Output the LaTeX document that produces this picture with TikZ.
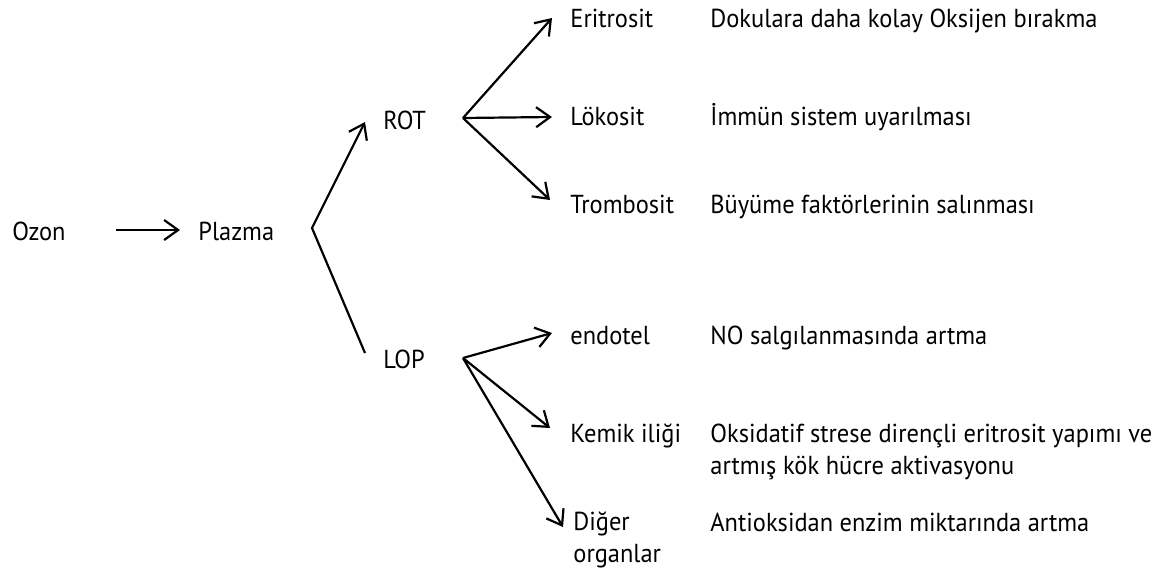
\documentclass[tikz,border=0pt]{standalone}
\usepackage{fontspec}
\setmainfont{PT Sans}[FakeStretch=0.94]
\usetikzlibrary{arrows.meta}

\begin{document}
\begin{tikzpicture}[x=0.5pt, y=-0.5pt,
  lbl/.style={anchor=base west, inner sep=0pt, font=\fontsize{13}{16}\selectfont},
  twoline/.style={lbl, anchor=north west, align=left},
  conn/.style={line width=1.1pt, -{Straight Barb[length=7pt,width=10pt]}}]
  \useasboundingbox (0,0) rectangle (1164,573);

  \node[lbl] (ozon) at (12,240) {Ozon};
  \node[lbl] (plazma) at (198,240) {Plazma};
  \node[lbl] (rot) at (383,129) {ROT};
  \node[lbl] (lop) at (383,368) {LOP};

  \node[lbl] (erit) at (570,27) {Eritrosit};
  \node[lbl] (loko) at (570,126) {Lökosit};
  \node[lbl] (trom) at (570,213) {Trombosit};
  \node[lbl] (endo) at (570,344) {endotel};
  \node[lbl] (kemik) at (570,442) {Kemik iliği};
  \node[twoline] (diger) at (573,511) {Diğer\\organlar};

  \node[lbl] (d-erit) at (710,27) {Dokulara daha kolay Oksijen bırakma};
  \node[lbl] (d-loko) at (710,125) {İmmün sistem uyarılması};
  \node[lbl] (d-trom) at (710,213) {Büyüme faktörlerinin salınması};
  \node[lbl] (d-endo) at (710,344) {NO salgılanmasında artma};
  \node[twoline] (d-kemik) at (710,424) {Oksidatif strese dirençli eritrosit yapımı ve\\artmış kök hücre aktivasyonu};
  \node[lbl] (d-diger) at (710,531) {Antioksidan enzim miktarında artma};

  \coordinate (split) at (312,228);
  \coordinate (rotfan) at (463,118);
  \coordinate (lopfan) at (463,358);

  \draw[conn] ([xshift=25pt,yshift=5pt]ozon.base east) -- ([xshift=-9pt,yshift=5pt]plazma.base west);
  \draw[conn, {Straight Barb[length=7pt,width=10pt]}-] ([xshift=-9pt,yshift=3.5pt]rot.base west) -- (split) -- ([xshift=-9pt,yshift=7.5pt]lop.base west);

  \draw[conn] (rotfan) -- ([xshift=-9pt,yshift=4.5pt]erit.base west);
  \draw[conn] (rotfan) -- ([xshift=-9pt,yshift=4.5pt]loko.base west);
  \draw[conn] (rotfan) -- ([xshift=-10pt,yshift=6.5pt]trom.base west);

  \draw[conn] (lopfan) -- ([xshift=-9pt,yshift=5.5pt]endo.base west);
  \draw[conn] (lopfan) -- ([xshift=-10pt,yshift=7pt]kemik.base west);
  \draw[conn] (lopfan) -- ([xshift=-5pt,yshift=-8pt]diger.north west);
\end{tikzpicture}
\end{document}
